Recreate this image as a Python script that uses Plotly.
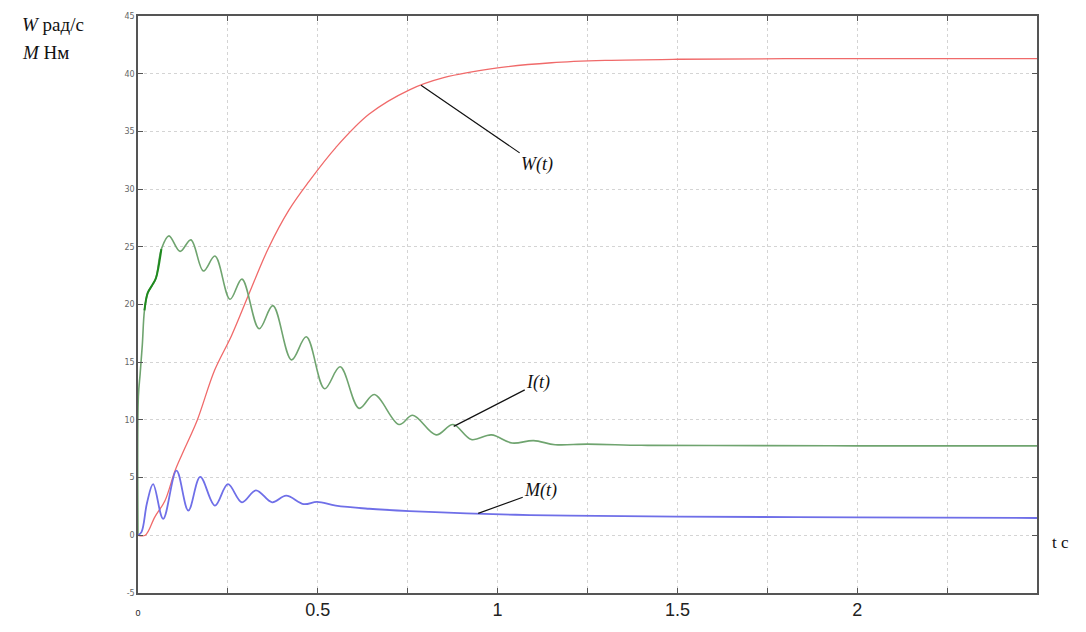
import plotly.graph_objects as go

# ---- data ----
t_W = [0, 0.02, 0.047, 0.075, 0.103, 0.131, 0.165, 0.213, 0.26, 0.307, 0.363, 0.42,
       0.474, 0.55, 0.643, 0.755, 0.85, 1.0, 1.15, 1.3, 1.5, 1.8, 2.5]
W = [0, 0, 1.6, 3.0, 5.6, 7.6, 10.0, 14.3, 17.3, 20.8, 24.9, 28.2,
     30.6, 33.6, 36.5, 38.6, 39.65, 40.5, 40.95, 41.15, 41.25, 41.3, 41.3]

t_I = [0, 0.001, 0.006, 0.012, 0.018, 0.027, 0.04, 0.05, 0.065, 0.086, 0.117, 0.147,
       0.182, 0.214, 0.256, 0.289, 0.337, 0.375, 0.427, 0.468, 0.519, 0.562, 0.615,
       0.657, 0.726, 0.764, 0.829, 0.876, 0.927, 0.983, 1.04, 1.1, 1.16, 1.25, 1.4,
       1.6, 2.0, 2.5]
I = [0, 12, 14, 16.5, 19.5, 21.0, 21.7, 22.3, 24.8, 25.95, 24.6, 25.6,
     22.9, 24.2, 20.45, 22.2, 17.9, 19.9, 15.2, 17.2, 12.7, 14.6, 11.0,
     12.2, 9.6, 10.4, 8.7, 9.6, 8.3, 8.7, 8.0, 8.2, 7.85, 7.9, 7.8,
     7.78, 7.75, 7.75]

t_M = [0, 0.01, 0.025, 0.042, 0.07, 0.107, 0.14, 0.173, 0.214, 0.25, 0.289, 0.328,
       0.373, 0.412, 0.461, 0.498, 0.55, 0.643, 0.755, 0.913, 1.05, 1.2, 1.5, 2.0, 2.5]
M = [0, 0.3, 2.8, 4.43, 1.43, 5.6, 2.15, 5.06, 2.57, 4.43, 2.86, 3.9,
     2.86, 3.43, 2.7, 2.9, 2.57, 2.3, 2.1, 1.9, 1.78, 1.7, 1.62, 1.55, 1.5]

x_ticks = [0, 0.25, 0.5, 0.75, 1, 1.25, 1.5, 1.75, 2, 2.25, 2.5]
x_ticklabels = ['<span style="font-size:9px">0</span>', '', '0.5', '', '1', '', '1.5', '', '2', '', '']
y_ticks = [-5, 0, 5, 10, 15, 20, 25, 30, 35, 40, 45]

fig = go.Figure()
fig.add_trace(go.Scatter(x=t_W, y=W, mode='lines', line=dict(color='#f06a6a', width=1.3, shape='spline', smoothing=1.0), showlegend=False))
fig.add_trace(go.Scatter(x=t_I, y=I, mode='lines', line=dict(color='#6fa46f', width=1.6, shape='spline', smoothing=1.0), showlegend=False))
fig.add_trace(go.Scatter(x=t_I[4:9], y=I[4:9], mode='lines', line=dict(color='#1f8a1f', width=2.0, shape='spline', smoothing=1.0), showlegend=False))
fig.add_trace(go.Scatter(x=t_M, y=M, mode='lines', line=dict(color='#6f6fe8', width=1.8, shape='spline', smoothing=1.0), showlegend=False))

lab_font = dict(family='Liberation Serif', size=18, color='#111')
fig.add_annotation(x=0.787, y=39.0, ax=1.11, ay=32.1, axref='x', ayref='y', xref='x', yref='y',
                   text='<i>W(t)</i>', showarrow=True, arrowhead=0, arrowwidth=1.2, arrowcolor='#111', font=lab_font)
fig.add_annotation(x=0.878, y=9.44, ax=1.113, ay=13.2, axref='x', ayref='y', xref='x', yref='y',
                   text='<i>I(t)</i>', showarrow=True, arrowhead=0, arrowwidth=1.2, arrowcolor='#111', font=lab_font)
fig.add_annotation(x=0.946, y=1.9, ax=1.12, ay=3.86, axref='x', ayref='y', xref='x', yref='y',
                   text='<i>M(t)</i>', showarrow=True, arrowhead=0, arrowwidth=1.2, arrowcolor='#111', font=lab_font)

title_font = dict(family='Liberation Serif', size=19, color='#111')
fig.add_annotation(xref='paper', yref='paper', x=-0.131, y=0.9845, xanchor='left', yanchor='middle',
                   text='<i>W</i> рад/с', showarrow=False, font=title_font)
fig.add_annotation(xref='paper', yref='paper', x=-0.131, y=0.936, xanchor='left', yanchor='middle',
                   text='<i>M</i> Нм', showarrow=False, font=title_font)
fig.add_annotation(xref='paper', yref='y', x=1.014, y=-0.6, xanchor='left', yanchor='middle',
                   text='t c', showarrow=False, font=dict(family='Liberation Serif', size=17, color='#111'))

axis_common = dict(showline=True, linecolor='#555', linewidth=1.5, mirror='ticks',
                   ticks='inside', tickcolor='#555', ticklen=5, tickwidth=1,
                   showgrid=True, gridcolor='#d4d4d4', griddash='dot', gridwidth=1, zeroline=False)
fig.update_xaxes(range=[0, 2.5], tickmode='array', tickvals=x_ticks, ticktext=x_ticklabels,
                 tickfont=dict(family='Liberation Sans', size=18, color='#222'), **axis_common)
fig.update_yaxes(range=[-5, 45], tickmode='array', tickvals=y_ticks, ticktext=[str(v) for v in y_ticks],
                 tickfont=dict(family='DejaVu Sans', size=8, color='#666'), **axis_common)

fig.update_layout(width=1086, height=632, margin=dict(l=138, r=49, t=15, b=35),
                  paper_bgcolor='white', plot_bgcolor='white')
fig.write_html('out.html')
